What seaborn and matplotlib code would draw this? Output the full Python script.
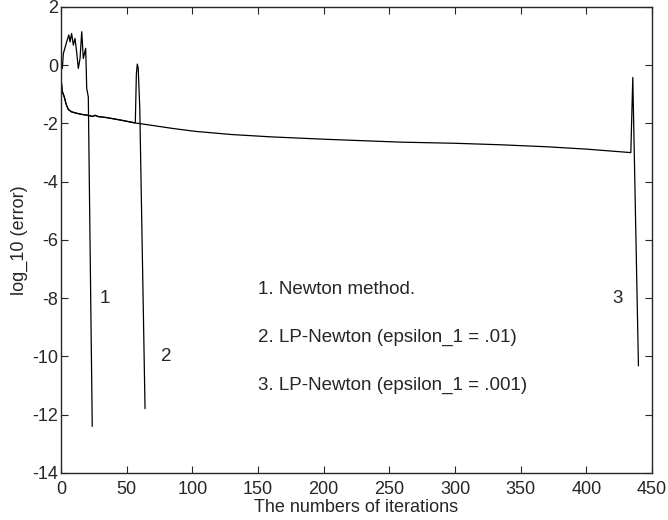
import seaborn as sns
import matplotlib
matplotlib.use("Agg")
import matplotlib.pyplot as plt
import pandas as pd

# Curve 1: Newton method
newton_x = [1, 1.8, 4.3, 6, 6.9, 8.1, 9.4, 10.7, 11.9, 13.2, 14.5, 15.8, 17, 18.8, 19.6, 20.8, 23.8]
newton_y = [-0.11, 0.4, 0.8, 1.04, 0.8, 1.09, 0.69, 0.92, 0.46, -0.11, 0.23, 1.15, 0.23, 0.58, -0.8, -1.09, -12.4]

# Shared slow-decline part (LP-Newton runs)
base_x = [0, 1, 2.5, 4, 5.6, 8, 12, 16, 20.8, 24, 26, 28, 35, 45, 56.3, 70, 85, 102, 130, 160, 200, 258, 300, 334, 370, 400, 433.9]
base_y = [-0.45, -0.9, -1.09, -1.35, -1.52, -1.6, -1.65, -1.69, -1.72, -1.76, -1.72, -1.76, -1.8, -1.88, -1.98, -2.07, -2.17, -2.27, -2.38, -2.46, -2.54, -2.64, -2.68, -2.73, -2.8, -2.88, -3.0]

# Curve 2: LP-Newton (epsilon_1 = .01) spike
lp2_break = 56.3
lp2_spike_x = [56.6, 57.4, 58.1, 58.8, 60, 64]
lp2_spike_y = [-1.97, -0.3, 0.04, -0.1, -1.5, -11.79]

# Curve 3: LP-Newton (epsilon_1 = .001) spike
lp3_spike_x = [435.4, 439.7]
lp3_spike_y = [-0.42, -10.32]

legend_lines = ["1. Newton method.",
                "2. LP-Newton (epsilon_1 = .01)",
                "3. LP-Newton (epsilon_1 = .001)"]

sns.set_style("ticks")
plt.rcParams["font.family"] = ["Liberation Sans", "DejaVu Sans"]
plt.rcParams["xtick.direction"] = "in"
plt.rcParams["ytick.direction"] = "in"
plt.rcParams["axes.unicode_minus"] = False

fig = plt.figure(figsize=(6.68, 5.2), dpi=100)
ax = fig.add_axes([0.0913, 0.0904, 0.8847, 0.8962])

c1 = pd.DataFrame({"x": newton_x, "y": newton_y})
c2x = [x for x in base_x if x <= lp2_break] + lp2_spike_x
c2y = [y for x, y in zip(base_x, base_y) if x <= lp2_break] + lp2_spike_y
c2 = pd.DataFrame({"x": c2x, "y": c2y})
c3 = pd.DataFrame({"x": base_x + lp3_spike_x, "y": base_y + lp3_spike_y})

for df in (c3, c2, c1):
    sns.lineplot(data=df, x="x", y="y", ax=ax, color="black", linewidth=0.9,
                 sort=False, estimator=None)

ax.set_xlim(0, 450)
ax.set_ylim(-14, 2)
ax.set_xticks(range(0, 451, 50))
ax.set_yticks(range(-14, 3, 2))
ax.tick_params(top=True, right=True, labelsize=13, length=5, width=0.8)
ax.tick_params(axis="x", pad=5.5)
ax.tick_params(axis="y", pad=2)
for s in ax.spines.values():
    s.set_linewidth(1.0)

ax.set_xlabel("The numbers of iterations", fontsize=13, labelpad=1)
ax.set_ylabel("log_10 (error)", fontsize=13, labelpad=3)

ax.text(33.5, -8.0, "1", fontsize=13.5, ha="center", va="center")
ax.text(80, -10.0, "2", fontsize=13.5, ha="center", va="center")
ax.text(423.5, -8.0, "3", fontsize=13.5, ha="center", va="center")
for i, t in enumerate(legend_lines):
    ax.text(150, -7.7 - 1.65 * i, t, fontsize=13.5, ha="left", va="center")

fig.savefig("out.png", dpi=100)
